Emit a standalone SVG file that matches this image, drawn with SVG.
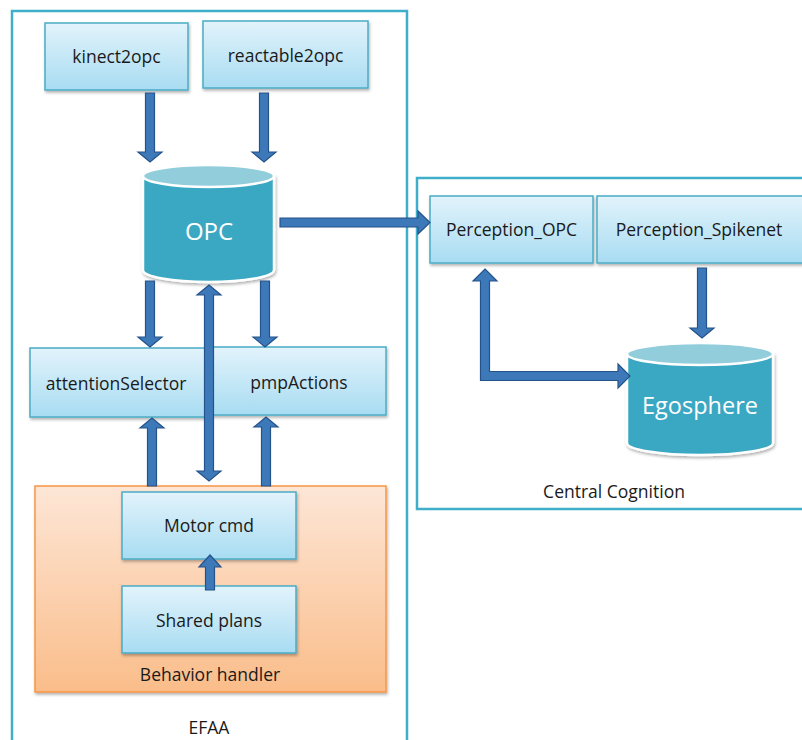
<svg xmlns="http://www.w3.org/2000/svg" width="802" height="740" viewBox="0 0 802 740">
<defs>
<linearGradient id="boxg" x1="0" y1="0" x2="0" y2="1">
<stop offset="0" stop-color="#E2F3FB"/>
<stop offset="1" stop-color="#A8DCF2"/>
</linearGradient>
<linearGradient id="orgg" x1="0" y1="0" x2="0" y2="1">
<stop offset="0" stop-color="#FDE6D6"/>
<stop offset="1" stop-color="#FABD8A"/>
</linearGradient>
<filter id="sh" x="-10%" y="-10%" width="125%" height="130%">
<feDropShadow dx="1" dy="2" stdDeviation="1.5" flood-color="#000" flood-opacity="0.3"/>
</filter>
</defs>
<style>
.box{fill:url(#boxg);stroke:#4BACC6;stroke-width:1.5;filter:url(#sh)}
.frame{fill:none;stroke:#3FAECB;stroke-width:2.5}
.t{font-family:"Open Sans","Liberation Sans",sans-serif;font-size:17.5px;fill:#1a1a1a;text-anchor:middle;dominant-baseline:central}
.ct{font-family:"Open Sans","Liberation Sans",sans-serif;fill:#ffffff;text-anchor:middle;dominant-baseline:central}
.body{fill:#3AA8C3;stroke:#ffffff;stroke-width:2.5}
.top{fill:#92CDDC;stroke:#ffffff;stroke-width:2.5}
.arr{fill:#3D79B9;stroke:#24538C;stroke-width:1.2;stroke-linejoin:miter}
</style>
<rect width="802" height="740" fill="#ffffff"/>

<g id="efaa">
<rect class="frame" x="12" y="11" width="395" height="740"/>
<text class="t" x="209" y="727">EFAA</text>
</g>
<g id="central-cognition">
<rect class="frame" x="417" y="178" width="400" height="331"/>
<text class="t" x="614" y="491">Central Cognition</text>
</g>
<g id="behavior-handler">
<rect x="35" y="486" width="351" height="206" fill="url(#orgg)" stroke="#F79646" stroke-width="1.5" filter="url(#sh)"/>
<text class="t" x="210" y="674">Behavior handler</text>
</g>

<g id="kinect2opc">
<rect class="box" x="45" y="23" width="143" height="67"/>
<text class="t" x="116.5" y="56">kinect2opc</text>
</g>
<g id="reactable2opc">
<rect class="box" x="203" y="21" width="165" height="67"/>
<text class="t" x="285.5" y="55">reactable2opc</text>
</g>
<g id="opc">
<path class="body" d="M143,176 V270 A65.5,12 0 0 0 274,270 V176 Z" filter="url(#sh)"/>
<ellipse class="top" cx="208.5" cy="176" rx="65.5" ry="11"/>
<text class="ct" x="209" y="230" font-size="24">OPC</text>
</g>
<g id="attentionSelector">
<rect class="box" x="30" y="348" width="178" height="69"/>
<text class="t" x="116" y="383">attentionSelector</text>
</g>
<g id="pmpActions">
<rect class="box" x="207" y="347" width="179" height="68"/>
<text class="t" x="299" y="382">pmpActions</text>
</g>
<g id="motor-cmd">
<rect class="box" x="122" y="492" width="174" height="67"/>
<text class="t" x="209" y="525">Motor cmd</text>
</g>
<g id="shared-plans">
<rect class="box" x="122" y="586" width="174" height="67"/>
<text class="t" x="209" y="620">Shared plans</text>
</g>
<g id="perception-opc">
<rect class="box" x="430" y="196" width="163" height="67"/>
<text class="t" x="511.5" y="229">Perception_OPC</text>
</g>
<g id="perception-spikenet">
<rect class="box" x="597" y="196" width="210" height="67"/>
<text class="t" x="699" y="229">Perception_Spikenet</text>
</g>
<g id="egosphere">
<path class="body" d="M627,354 V443 A73,12 0 0 0 773,443 V354 Z" filter="url(#sh)"/>
<ellipse class="top" cx="700" cy="354" rx="73" ry="11"/>
<text class="ct" x="700" y="405" font-size="23.5">Egosphere</text>
</g>

<g id="connectors">
<polygon class="arr" points="145.5,93 154.5,93 154.5,152 162,152 150,162 138,152 145.5,152"/>
<polygon class="arr" points="259.5,93 268.5,93 268.5,152 276,152 264,162 252,152 259.5,152"/>
<polygon class="arr" points="145.5,281 154.5,281 154.5,337 162,337 150,347 138,337 145.5,337"/>
<polygon class="arr" points="260.5,281 269.5,281 269.5,337 277,337 265,347 253,337 260.5,337"/>
<polygon class="arr" points="147.5,486 156.5,486 156.5,428 164,428 152,418 140,428 147.5,428"/>
<polygon class="arr" points="261.5,486 270.5,486 270.5,427 278,427 266,417 254,427 261.5,427"/>
<polygon class="arr" points="209,285 221,295 213.5,295 213.5,471 221,471 209,481 197,471 204.5,471 204.5,295 197,295"/>
<polygon class="arr" points="205.5,590 214.5,590 214.5,567 221,567 210,555 199,567 205.5,567"/>
<polygon class="arr" points="280,218 418,218 418,211 430,222.5 418,234 418,227 280,227"/>
<polygon class="arr" points="697.5,268 706.5,268 706.5,328 714,328 702,338 690,328 697.5,328"/>
<polygon class="arr" points="485,269 497,281 489.5,281 489.5,371.5 618,371.5 618,364 630,376 618,388 618,380.5 480.5,380.5 480.5,281 473,281"/>
</g>
</svg>
